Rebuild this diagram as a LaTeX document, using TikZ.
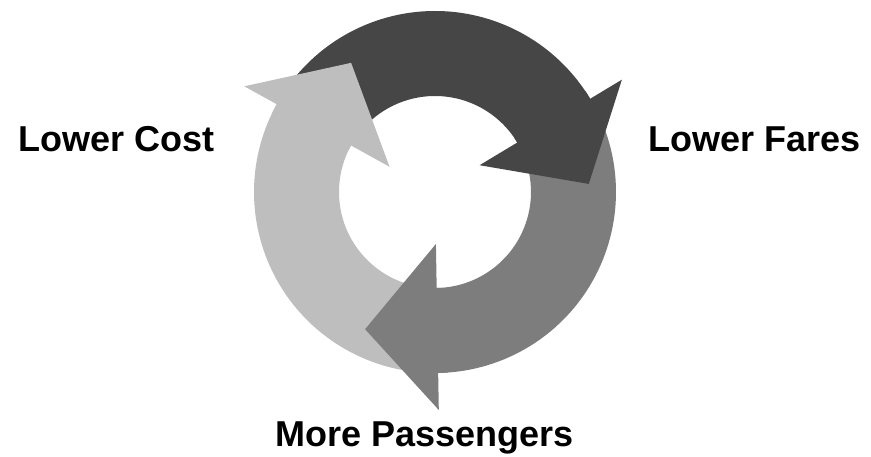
\documentclass[tikz,border=0pt]{standalone}
\usepackage{fontspec}
\setmainfont{Liberation Sans}
\definecolor{darkarrow}{RGB}{70,70,70}
\definecolor{midarrow}{RGB}{125,125,125}
\definecolor{lightarrow}{RGB}{190,190,190}
\tikzset{
  lbl/.style={font=\fontsize{36}{40}\selectfont\bfseries, inner sep=0pt, text=black},
}
% body band: #1 tail angle, #2 base angle (clockwise), #3 colour
\newcommand{\ArrowBody}[3]{%
  \fill[#3] (#1:181) arc[start angle=#1, end angle=#2, radius=181]
    -- (#2:96) arc[start angle=#2, end angle=#1, radius=96] -- cycle;}
% head: #1 base angle, #2 colour
\newcommand{\ArrowHead}[2]{%
  \fill[#2] ({#1+3}:181) arc[start angle={#1+3}, end angle=#1, radius=181]
    -- (#1:218) -- ({#1-28}:154) -- (#1:52) -- (#1:96)
    arc[start angle=#1, end angle={#1+3}, radius=96] -- cycle;}
\begin{document}
\begin{tikzpicture}[x=1pt,y=1pt]
\useasboundingbox (0,0) rectangle (871,457);
\begin{scope}[shift={(435,265)}]
  \coordinate (C) at (0,0);
  \ArrowBody{141}{31}{darkarrow}
  \ArrowBody{21}{-89}{midarrow}
  \ArrowBody{261}{151}{lightarrow}
  \ArrowHead{31}{darkarrow}
  \ArrowHead{-89}{midarrow}
  \ArrowHead{151}{lightarrow}
\end{scope}
\node[lbl, anchor=base east] (cost) at (215,305) {Lower Cost};
\node[lbl, anchor=base west] (fares) at (648,305) {Lower Fares};
\node[lbl, anchor=base] (pass) at (425,10) {More Passengers};
\end{tikzpicture}
\end{document}
